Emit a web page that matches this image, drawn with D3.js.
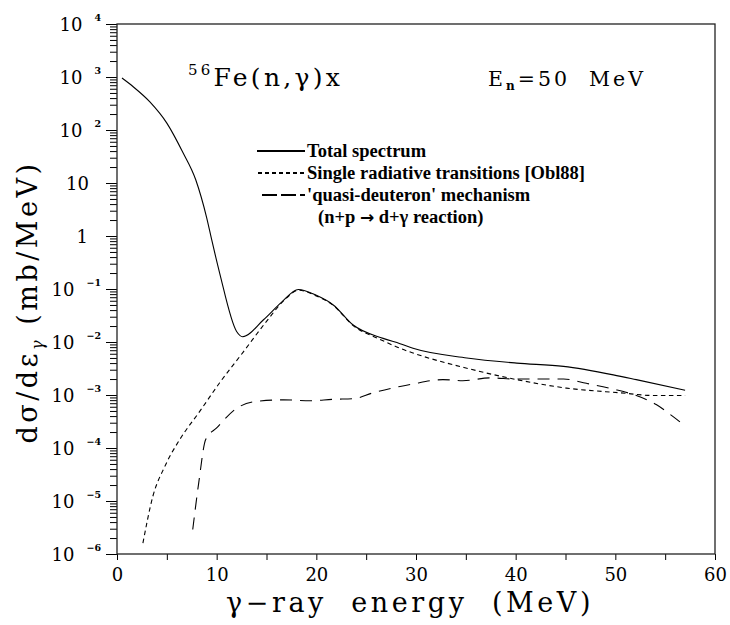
<!DOCTYPE html>
<html lang="en">
<head>
    <meta charset="UTF-8">
    <title>56Fe(n,gamma)x spectrum</title>
    <script src="https://d3js.org/d3.v7.min.js"></script>
    <style>
        body { margin: 0; background: #fff; }
    </style>
</head>
<body>
    <div id="chart"></div>

    <script>
        // total spectrum
        const totalE = [0.5, 1.6, 3.3, 5.0, 6.6, 7.9, 9.0, 9.5, 10.3, 12.0, 12.6, 14.7, 16.5, 18.2, 20.0, 21.7, 23.7, 26.7, 28.4, 29.7, 35.1, 40.1, 44.8, 49.8, 52.1, 57.0];
        const totalXS = [955, 661, 339, 135, 38, 11.5, 2.2, 0.85, 0.20, 0.0158, 0.0126, 0.0263, 0.056, 0.098, 0.076, 0.050, 0.0209, 0.0117, 0.0093, 0.0076, 0.0050, 0.0040, 0.00347, 0.0024, 0.00195, 0.00123];

        // single radiative transitions [Obl88]
        const singleE = [2.6, 3.6, 4.8, 6.3, 8.3, 10.3, 12.7, 15.0, 17.0, 18.2, 20.0, 21.7, 23.7, 26.4, 28.4, 29.7, 35.1, 40.1, 45.1, 50.5, 53.8, 57.0];
        const singleXS = [1.6e-6, 1.23e-5, 4.5e-5, 1.45e-4, 4.9e-4, 1.7e-3, 6.6e-3, 0.0245, 0.0676, 0.095, 0.074, 0.049, 0.0204, 0.0112, 0.0076, 0.0062, 0.0032, 0.00195, 0.00135, 0.0011, 0.00098, 0.00098];

        // quasi-deuteron mechanism
        const qdE = [7.6, 8.2, 8.9, 10.0, 12.0, 14.0, 16.7, 19.4, 21.7, 23.7, 25.7, 28.4, 29.7, 32.7, 34.7, 37.4, 40.1, 42.4, 44.8, 47.1, 49.8, 51.8, 54.1, 55.8, 57.0];
        const qdXS = [2.9e-6, 2.2e-5, 1.45e-4, 2.4e-4, 5.6e-4, 7.6e-4, 8.1e-4, 7.8e-4, 8.3e-4, 8.5e-4, 1.1e-3, 1.45e-3, 1.62e-3, 1.95e-3, 1.86e-3, 2.1e-3, 2.0e-3, 2.0e-3, 2.0e-3, 1.66e-3, 1.29e-3, 1.02e-3, 6.6e-4, 3.9e-4, 2.6e-4];

        const xTicks = [0, 10, 20, 30, 40, 50, 60];
        const xMinorTicks = [5, 15, 25, 35, 45, 55];
        const yExponents = [4, 3, 2, 1, 0, -1, -2, -3, -4, -5, -6];

        const legendLabels = ['Total spectrum', 'Single radiative transitions [Obl88]', "'quasi-deuteron' mechanism"];

        const margin = {top: 24, right: 15, bottom: 71, left: 117},
            width = 730 - margin.left - margin.right,
            height = 625 - margin.top - margin.bottom;

        const serif = "'DejaVu Serif', serif";
        const times = "'Liberation Serif', 'Times New Roman', serif";

        const svg = d3.select('#chart')
            .append('svg')
                .attr('width', 730)
                .attr('height', 625)
            .append('g')
                .attr('transform', `translate(${margin.left}, ${margin.top})`);

        const x = d3.scaleLinear().domain([0, 60]).range([0, width]);
        const y = d3.scaleLog().domain([1e-6, 1e4]).range([height, 0]);

        // stretch a text to a target width with letter spacing
        const fitWidth = (sel, target) => {
            const node = sel.node();
            const w = node.getComputedTextLength();
            const n = node.textContent.length;
            sel.attr('letter-spacing', Math.max(0, (target - w) / n));
        };

        // log minor ticks
        const yMinor = [];
        yExponents.forEach(e => {
            if (e === 4) return;
            for (let k = 2; k <= 9; k++) yMinor.push(k * Math.pow(10, e));
        });
        const yMajor = yExponents.map(e => Math.pow(10, e));

        // y axis: minor then major ticks
        svg.append('g')
            .call(d3.axisLeft(y).tickValues(yMinor).tickSize(7).tickFormat(''))
            .call(g => g.select('.domain').remove());
        svg.append('g')
            .call(d3.axisLeft(y).tickValues(yMajor).tickSize(11).tickFormat(''))
            .call(g => g.select('.domain').remove());

        // x axis
        svg.append('g')
            .attr('transform', `translate(0, ${height})`)
            .call(d3.axisBottom(x).tickValues(xMinorTicks).tickSize(6).tickFormat(''))
            .call(g => g.select('.domain').remove());
        svg.append('g')
            .attr('transform', `translate(0, ${height})`)
            .call(d3.axisBottom(x).tickValues(xTicks).tickSize(6).tickPadding(8).tickFormat(d => d))
            .call(g => g.select('.domain').remove())
            .selectAll('text')
                .attr('font-family', serif)
                .attr('font-size', 18)
                .attr('fill', '#000');

        svg.selectAll('.tick line').attr('stroke', '#000');

        // frame
        svg.append('rect')
            .attr('x', 0).attr('y', 0)
            .attr('width', width).attr('height', height)
            .attr('fill', 'none')
            .attr('stroke', '#222')
            .attr('stroke-width', 1.3);

        // y tick labels, 10 with superscript exponent
        const yLab = svg.append('g')
            .selectAll('text')
            .data(yExponents)
            .join('text')
                .attr('x', -16)
                .attr('y', e => y(Math.pow(10, e)) + 7)
                .attr('text-anchor', 'end')
                .attr('font-family', serif)
                .attr('font-size', 18);
        yLab.each(function(e) {
            const t = d3.select(this);
            if (e === 0) { t.attr('x', -29).text('1'); return; }
            if (e === 1) { t.attr('x', -28).text('10'); return; }
            t.append('tspan').text('10');
            t.append('tspan')
                .attr('dx', 12)
                .attr('dy', -10)
                .attr('font-size', 9.5)
                .attr('font-weight', 'bold')
                .text(String(e).replace('-', '\u2212'));
        });

        // curves
        const line = (xs, ys) => d3.line()
            .x((d, i) => x(xs[i]))
            .y((d, i) => y(ys[i]))
            .curve(d3.curveMonotoneX)(xs);

        svg.append('path')
            .attr('d', line(totalE, totalXS))
            .attr('fill', 'none').attr('stroke', '#000').attr('stroke-width', 1.1);
        svg.append('path')
            .attr('d', line(singleE, singleXS))
            .attr('fill', 'none').attr('stroke', '#000').attr('stroke-width', 1.1)
            .attr('stroke-dasharray', '4.5,3.5');
        svg.append('path')
            .attr('d', line(qdE, qdXS))
            .attr('fill', 'none').attr('stroke', '#000').attr('stroke-width', 1.1)
            .attr('stroke-dasharray', '12,8');

        // legend
        const dashes = [null, '4,3', '15,4'];
        const legStart = [140, 141, 145];
        const leg = svg.append('g').attr('transform', 'translate(0, 127)');
        legendLabels.forEach((lab, i) => {
            leg.append('line')
                .attr('x1', legStart[i]).attr('x2', 188)
                .attr('y1', i * 22).attr('y2', i * 22)
                .attr('stroke', '#000').attr('stroke-width', 2)
                .attr('stroke-dasharray', dashes[i]);
            leg.append('text')
                .attr('x', 190).attr('y', i * 22 + 6)
                .attr('font-family', times).attr('font-weight', 'bold').attr('font-size', 18.5)
                .text(lab);
        });
        const react = leg.append('text')
            .attr('x', 201).attr('y', 3 * 22 + 6)
            .attr('font-family', times).attr('font-weight', 'bold').attr('font-size', 18.5);
        react.append('tspan').text('(n+p ');
        react.append('tspan').attr('font-family', "'DejaVu Sans', sans-serif").attr('font-size', 17).text('\u2192');
        react.append('tspan').text(' d+\u03b3 reaction)');

        // title
        const title = svg.append('text')
            .attr('x', 71).attr('y', 62)
            .attr('font-family', serif).attr('font-size', 25);
        title.append('tspan').attr('font-size', 15).attr('dy', -11).text('56');
        title.append('tspan').attr('dy', 11).text('Fe(n,\u03b3)x');
        fitWidth(title, 155);

        const en = svg.append('text')
            .attr('x', 371).attr('y', 62)
            .attr('font-family', serif).attr('font-size', 20.5);
        en.append('tspan').text('E');
        en.append('tspan').attr('font-size', 12).attr('font-weight', 'bold').attr('dy', 4).text('n');
        en.append('tspan').attr('dy', -4).text('=50\u00a0\u00a0MeV');
        fitWidth(en, 158);

        // axis titles
        const xt = svg.append('text')
            .attr('x', 293).attr('y', 588)
            .attr('text-anchor', 'middle')
            .attr('font-family', serif).attr('font-size', 27)
            .text('\u03b3\u2212ray\u00a0\u00a0energy\u00a0\u00a0(MeV)');
        fitWidth(xt, 368);

        const yt = svg.append('text')
            .attr('transform', `translate(${37 - margin.left}, ${302 - margin.top}) rotate(-90)`)
            .attr('text-anchor', 'middle')
            .attr('font-family', serif).attr('font-size', 27);
        yt.append('tspan').text('d\u03c3/d\u03b5');
        yt.append('tspan').attr('font-size', 16).attr('font-style', 'italic').attr('dy', 6).text('\u03b3');
        yt.append('tspan').attr('dy', -6).text('\u00a0(mb/MeV)');
        fitWidth(yt, 283);
    </script>
</body>
</html>
